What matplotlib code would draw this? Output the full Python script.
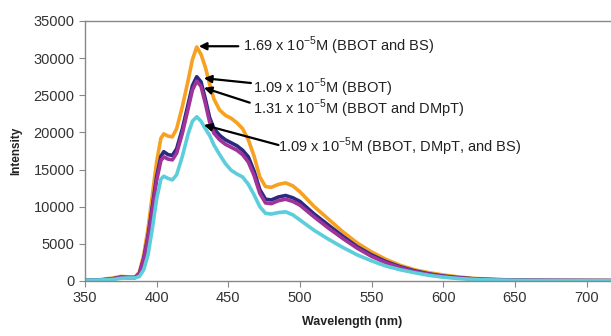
import matplotlib
matplotlib.use("Agg")
import matplotlib.pyplot as plt

plt.rcParams['font.family'] = ['Liberation Sans', 'DejaVu Sans']
plt.rcParams['mathtext.fontset'] = 'custom'
plt.rcParams['mathtext.rm'] = 'Liberation Sans'

wavelength = [350, 360, 370, 375, 380, 385, 388, 391, 394, 397, 400, 403, 405, 408, 411, 414, 418, 422, 425, 428,
              431, 434, 437, 440, 444, 448, 452, 456, 460, 464, 468, 472, 476, 480, 485, 490, 495, 500, 510, 520,
              530, 540, 550, 560, 570, 580, 590, 600, 610, 620, 630, 650, 675, 700, 720]

bbot_bs = [100, 150, 400, 600, 550, 500, 1200, 3500, 7000, 11500, 16000, 19200, 19800, 19500, 19400, 20500, 23500,
           27000, 29800, 31500, 30500, 28800, 26500, 24500, 23000, 22300, 21900, 21300, 20500, 19000, 16800, 14000,
           12700, 12600, 13000, 13200, 12800, 12000, 10000, 8300, 6600, 5100, 3900, 2900, 2100, 1500, 1100, 800,
           550, 350, 250, 120, 80, 60, 50]

bbot = [80, 100, 300, 500, 450, 450, 1000, 3000, 6000, 10000, 14000, 16800, 17400, 17000, 16900, 17800, 20500,
        23800, 26300, 27500, 26800, 24500, 22000, 20500, 19600, 19000, 18600, 18200, 17600, 16700, 14800, 12300,
        11000, 10900, 11300, 11500, 11200, 10700, 9000, 7500, 6000, 4600, 3500, 2600, 1900, 1350, 950, 650,
        450, 300, 200, 100, 60, 50, 40]

bbot_dmpt = [80, 100, 300, 500, 450, 450, 1000, 2900, 5800, 9600, 13500, 16200, 16700, 16400, 16300, 17200, 19900,
             23200, 25700, 26900, 26200, 23900, 21400, 19900, 19000, 18400, 18000, 17600, 17000, 16000, 14200, 11800,
             10500, 10400, 10800, 11000, 10700, 10200, 8600, 7100, 5700, 4400, 3300, 2450, 1800, 1250, 900, 600,
             400, 280, 180, 90, 60, 50, 40]

bbot_dmpt_bs = [100, 120, 200, 350, 400, 400, 600, 1500, 3500, 7000, 11000, 13700, 14100, 13800, 13600, 14300, 16800,
                19800, 21500, 22100, 21500, 20500, 19600, 18300, 17000, 15800, 14900, 14400, 14000, 13000, 11600, 10000,
                9100, 9000, 9200, 9300, 8900, 8200, 6800, 5600, 4500, 3500, 2700, 2000, 1500, 1100, 750, 500,
                330, 220, 150, 80, 50, 40, 30]

labels = ["1.69 x 10$^{-5}$M (BBOT and BS)",
          "1.09 x 10$^{-5}$M (BBOT)",
          "1.31 x 10$^{-5}$M (BBOT and DMpT)",
          "1.09 x 10$^{-5}$M (BBOT, DMpT, and BS)"]
x_ticks = [350, 400, 450, 500, 550, 600, 650, 700]
y_ticks = [0, 5000, 10000, 15000, 20000, 25000, 30000, 35000]

fig = plt.figure(figsize=(6.11, 3.36), dpi=100)
ax = fig.add_axes([0.139, 0.164, 0.875, 0.7735])

ax.plot(wavelength, bbot_bs, color='#F7A021', lw=2.6, solid_capstyle='round')
ax.plot(wavelength, bbot, color='#2B2A80', lw=2.6, solid_capstyle='round')
ax.plot(wavelength, bbot_dmpt, color='#A0329A', lw=2.6, solid_capstyle='round')
ax.plot(wavelength, bbot_dmpt_bs, color='#5CCDDB', lw=2.6, solid_capstyle='round')

ax.set_xlim(350, 723)
ax.set_ylim(0, 35000)
ax.set_xticks(x_ticks)
ax.set_yticks(y_ticks)
ax.tick_params(axis='both', labelsize=10.5, colors='#333333', length=4, width=0.8, direction='out')
ax.tick_params(axis='both', color='#888888')
for s in ['left', 'bottom', 'top']:
    ax.spines[s].set_color('#888888')
    ax.spines[s].set_linewidth(1.0)
ax.spines['right'].set_visible(False)

ax.set_xlabel('Wavelength (nm)', fontsize=9, fontweight='bold', color='#222222', labelpad=8)
ax.set_ylabel('Intensity', fontsize=8.5, fontweight='bold', color='#222222', labelpad=8)

arrows = [((429.5, 31600), (457.0, 31600), (460.0, 31600)),
          ((433.0, 27300), (465.8, 26650), (467.5, 26000)),
          ((433.0, 26000), (465.0, 24000), (467.5, 23200)),
          ((433.0, 21000), (485.0, 18300), (484.5, 18000))]
for (tip, tail, txt), lab in zip(arrows, labels):
    ax.annotate('', xy=tip, xytext=tail,
                arrowprops=dict(arrowstyle='-|>', color='black', lw=1.6, mutation_scale=11,
                                shrinkA=0, shrinkB=0))
    ax.text(txt[0], txt[1], lab, fontsize=10.5, color='#222222', ha='left', va='center')

fig.savefig('out.png', dpi=100)
